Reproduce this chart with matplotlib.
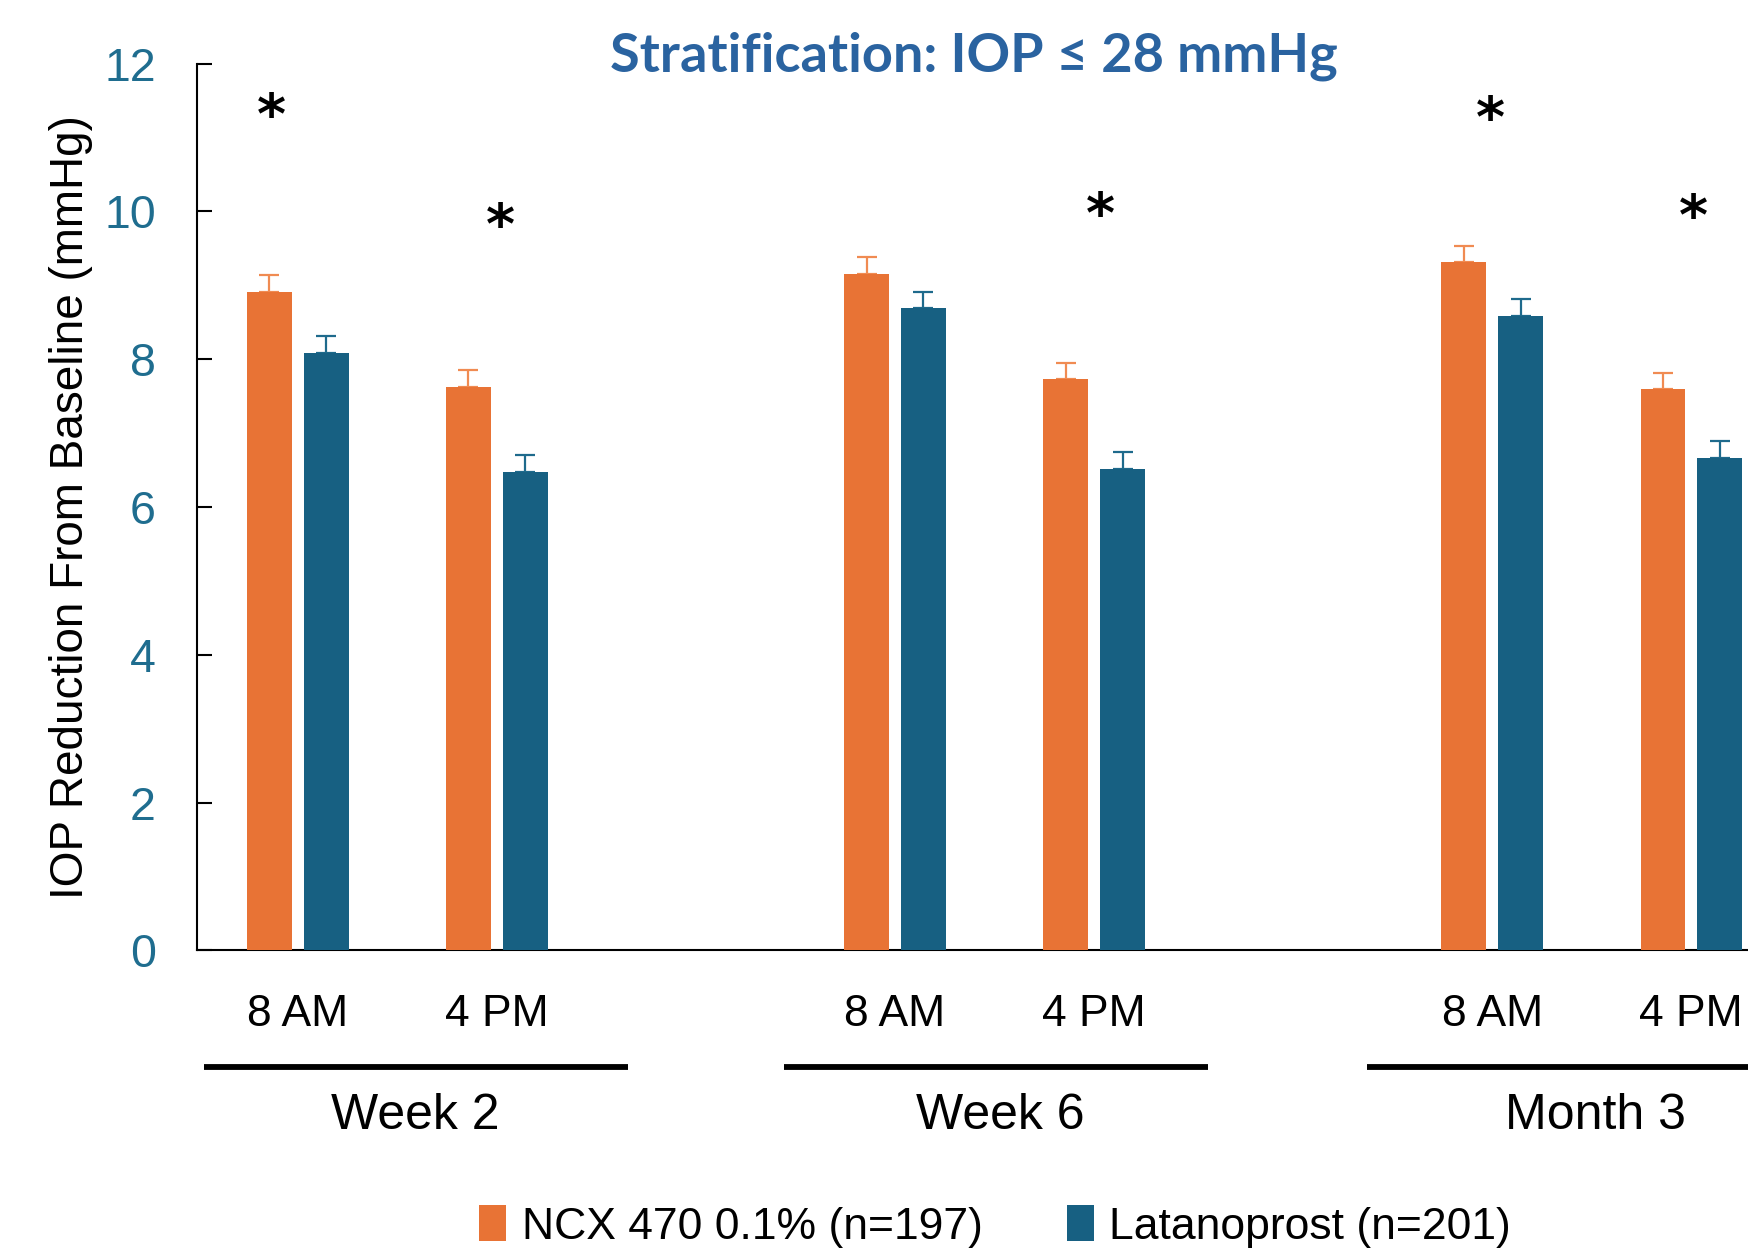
import matplotlib
matplotlib.use("Agg")
import matplotlib.pyplot as plt
from matplotlib.patches import Patch
import numpy as np

# ---- data ----
groups = ["Week 2", "Week 6", "Month 3"]
times = ["8 AM", "4 PM"]
ncx_vals = [8.91, 7.62, 9.16, 7.73, 9.31, 7.60]
lat_vals = [8.09, 6.48, 8.69, 6.52, 8.59, 6.66]
ncx_err = [0.23, 0.23, 0.23, 0.22, 0.22, 0.21]
lat_err = [0.22, 0.22, 0.22, 0.23, 0.22, 0.23]
series_names = ["NCX 470 0.1% (n=197)", "Latanoprost (n=201)"]
star_x = [-0.13, 1.02, 4.03, 5.99, 7.01]
star_y = [11.27, 9.78, 9.93, 11.22, 9.90]
title = "Stratification: IOP \u2264 28 mmHg"
ylabel = "IOP Reduction From Baseline (mmHg)"

ORANGE = "#E87335"
BLUE = "#176082"
ORANGE_ERR = "#F08B52"
BLUE_ERR = "#1E6A8C"
TICK_BLUE = "#1F6D8F"
TITLE_BLUE = "#2A63A0"

fig = plt.figure(figsize=(17.49, 12.49), dpi=100)
ax = fig.add_axes([0.1129, 0.239, 0.8871, 0.710])

# slot positions: two time points per group, a blank slot between groups
pos = []
for g in range(len(groups)):
    for t in range(len(times)):
        pos.append(g * 3 + t)
pos = np.array(pos, dtype=float)
off = 0.143
w = 0.224

ax.bar(pos - off, ncx_vals, width=w, color=ORANGE, zorder=3)
ax.bar(pos + off, lat_vals, width=w, color=BLUE, zorder=3)
ax.errorbar(pos - off, ncx_vals, yerr=[np.zeros(len(ncx_err)), ncx_err],
            fmt="none", ecolor=ORANGE_ERR, elinewidth=1.6, capsize=7, capthick=1.6, zorder=2)
ax.errorbar(pos + off, lat_vals, yerr=[np.zeros(len(lat_err)), lat_err],
            fmt="none", ecolor=BLUE_ERR, elinewidth=1.6, capsize=7, capthick=1.6, zorder=2)

for x, y in zip(star_x, star_y):
    ax.text(x, y, "*", ha="center", va="center", fontsize=40, fontweight="bold",
            family="DejaVu Sans", color="black")

ax.set_xlim(-0.504, 7.29)
ax.set_ylim(0, 12)
ax.set_yticks(np.arange(0, 13, 2))
ax.tick_params(axis="y", direction="in", length=11, width=1.5, pad=30,
               labelsize=33.5, labelcolor=TICK_BLUE)
for lab in ax.get_yticklabels():
    lab.set_family("Liberation Sans")

ax.set_xticks(pos)
ax.set_xticklabels(times * len(groups))
ax.tick_params(axis="x", length=0, pad=31, labelsize=32)
for lab in ax.get_xticklabels():
    lab.set_family("Liberation Sans")

for s in ["top", "right"]:
    ax.spines[s].set_visible(False)
ax.spines["left"].set_linewidth(1.5)
ax.spines["bottom"].set_linewidth(1.5)

ax.set_ylabel(ylabel, fontsize=33, family="Liberation Sans", labelpad=8)

# group bracket lines and labels
trans = ax.get_xaxis_transform()
line_starts = [-0.47, 2.44, 5.37]
line_ends = [1.66, 4.57, 7.6]
label_x = [0.59, 3.53, 6.52]
for g, name in enumerate(groups):
    ax.plot([line_starts[g], line_ends[g]], [-0.131, -0.131], color="black",
            lw=4.2, transform=trans, clip_on=False, solid_capstyle="butt")
    ax.text(label_x[g], -0.187, name, transform=trans, ha="center", va="center",
            fontsize=36, family="Liberation Sans")

fig.text(0.557, 0.955, title, ha="center", va="center", fontsize=39,
         fontweight="bold", family="Lato", color=TITLE_BLUE)

handles = [Patch(facecolor=ORANGE), Patch(facecolor=BLUE)]
fig.legend(handles, series_names, loc="center", bbox_to_anchor=(0.569, 0.018),
           ncol=2, frameon=False, prop={"family": "Liberation Sans", "size": 32},
           handlelength=0.6, handleheight=0.85, handletextpad=0.35, columnspacing=1.9)

fig.savefig("out.png", dpi=100)
